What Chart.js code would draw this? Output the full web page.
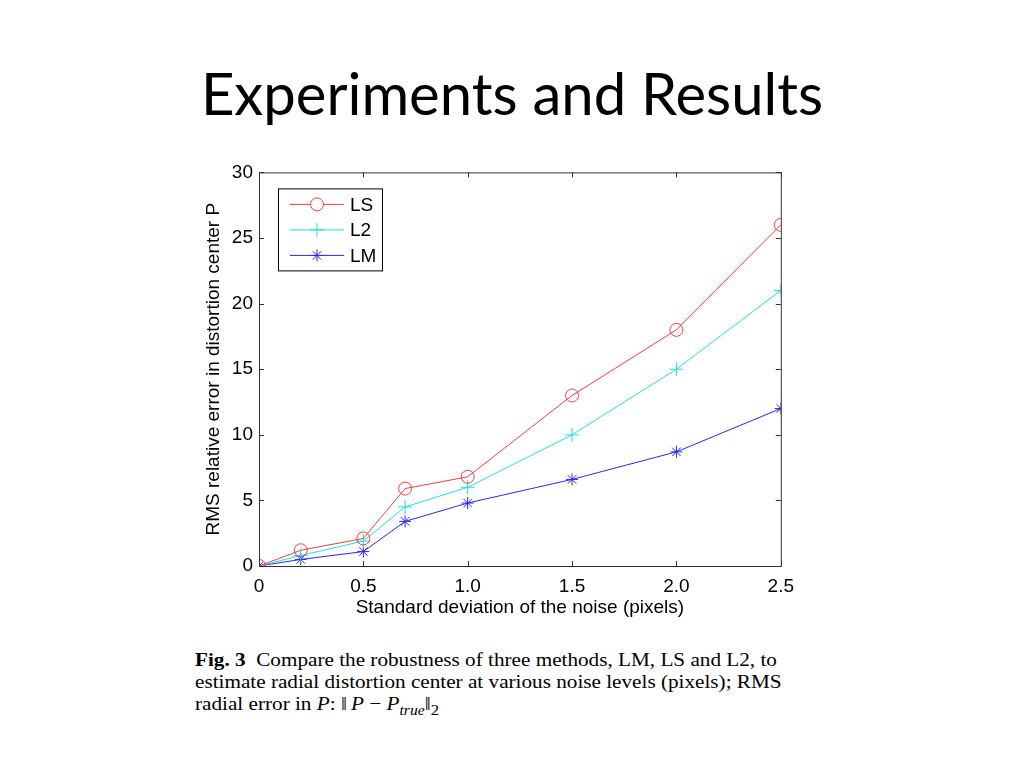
<!DOCTYPE html>
<html>
<head>
<meta charset="utf-8">
<script src="https://cdn.jsdelivr.net/npm/chart.js@4"></script>
<style>
  body { margin: 0; background: #fff; width: 1024px; height: 768px; position: relative; overflow: hidden; }
  #title { position: absolute; left: 0; width: 1024px; top: 58px; text-align: center; line-height: 1.2;
           font-family: Lato, "Open Sans", sans-serif; font-size: 58px; color: #000; white-space: nowrap; }
  #wrap { position: absolute; left: 200px; top: 155px; width: 603px; height: 465px; }
  #caption { position: absolute; left: 195px; top: 649px; white-space: nowrap;
             transform: scaleX(1.115); transform-origin: 0 0;
             font-family: "Liberation Serif", "DejaVu Serif", serif; font-size: 19px; line-height: 22px; color: #000; }
  #caption sub { line-height: 0; }
</style>
</head>
<body>
<div id="title">Experiments and Results</div>
<div id="wrap"><canvas id="c"></canvas></div>
<div id="caption"><b>Fig. 3</b>&nbsp; Compare the robustness of three methods, LM, LS and L2, to<br>estimate radial distortion center at various noise levels (pixels); RMS<br>radial error in <i>P</i>: ‖&thinsp;<i>P</i> − <i>P<sub style="font-size:14px">true</sub></i>‖<sub style="font-size:15px">2</sub></div>
<script>
const noise = [0, 0.2, 0.5, 0.7, 1.0, 1.5, 2.0, 2.5];
const lsErr = [0, 1.2, 2.1, 5.9, 6.8, 13, 18, 26];
const l2Err = [0, 0.8, 1.9, 4.5, 6.0, 10, 15, 21];
const lmErr = [0, 0.5, 1.1, 3.4, 4.8, 6.6, 8.7, 12];
const xTicks = [0, 0.5, 1.0, 1.5, 2.0, 2.5];
const xTickLabels = ['0', '0.5', '1.0', '1.5', '2.0', '2.5'];
const yTicks = [0, 5, 10, 15, 20, 25, 30];

function pts(ys) { return noise.map((x, i) => ({ x: x, y: ys[i] })); }

const FONT = '"Liberation Sans", Arial, sans-serif';

// box around the plot with inward ticks on all four sides
const boxPlugin = {
  id: 'box',
  afterDraw(chart) {
    const ctx = chart.ctx, a = chart.chartArea;
    const xs = chart.scales.x, ys = chart.scales.y;
    ctx.save();
    ctx.strokeStyle = '#333';
    ctx.lineWidth = 1;
    ctx.strokeRect(a.left + 0.5, a.top + 0.5, a.right - a.left, a.bottom - a.top);
    ctx.beginPath();
    xTicks.forEach(v => {
      const p = Math.round(xs.getPixelForValue(v)) + 0.5;
      ctx.moveTo(p, a.bottom); ctx.lineTo(p, a.bottom - 5);
      ctx.moveTo(p, a.top); ctx.lineTo(p, a.top + 5);
    });
    yTicks.forEach(v => {
      const p = Math.round(ys.getPixelForValue(v)) + 0.5;
      ctx.moveTo(a.left, p); ctx.lineTo(a.left + 5, p);
      ctx.moveTo(a.right, p); ctx.lineTo(a.right - 5, p);
    });
    ctx.stroke();
    ctx.restore();
  }
};

// matlab-style legend inside the axes, upper left
const legendPlugin = {
  id: 'boxLegend',
  afterDraw(chart) {
    const ctx = chart.ctx, a = chart.chartArea;
    const x0 = a.left + 19, y0 = a.top + 16;
    ctx.save();
    ctx.fillStyle = '#fff';
    ctx.fillRect(x0, y0, 104, 82);
    ctx.strokeStyle = '#000';
    ctx.lineWidth = 1;
    ctx.strokeRect(x0 + 0.5, y0 + 0.5, 104, 82);
    chart.data.datasets.forEach((ds, i) => {
      const y = y0 + 16 + i * 25.5;
      ctx.strokeStyle = ds.borderColor;
      ctx.lineWidth = 1;
      ctx.beginPath();
      ctx.moveTo(x0 + 12, y); ctx.lineTo(x0 + 66, y);
      ctx.stroke();
      Chart.helpers.drawPoint(ctx, {
        pointStyle: ds.pointStyle, radius: ds.pointRadius, borderWidth: 1
      }, x0 + 39, y);
      ctx.fillStyle = '#000';
      ctx.font = '19px ' + FONT;
      ctx.textBaseline = 'middle';
      ctx.fillText(ds.label, x0 + 72, y + 1);
    });
    ctx.restore();
  }
};

new Chart(document.getElementById('c'), {
  type: 'line',
  data: {
    datasets: [
      { label: 'LS', data: pts(lsErr), borderColor: '#ee4040', pointBorderColor: '#ee4040',
        backgroundColor: 'transparent', pointBackgroundColor: 'transparent',
        pointStyle: 'circle', pointRadius: 6.5, borderWidth: 1, pointBorderWidth: 1 },
      { label: 'L2', data: pts(l2Err), borderColor: '#20e0e0', pointBorderColor: '#20e0e0',
        backgroundColor: 'transparent', pointStyle: 'cross', pointRadius: 7, borderWidth: 1, pointBorderWidth: 1 },
      { label: 'LM', data: pts(lmErr), borderColor: '#2a2ae8', pointBorderColor: '#2a2ae8',
        backgroundColor: 'transparent', pointStyle: 'star', pointRadius: 6, borderWidth: 1, pointBorderWidth: 1 }
    ]
  },
  options: {
    responsive: true,
    maintainAspectRatio: false,
    animation: false,
    layout: { padding: { left: 0, right: 16, top: 8, bottom: 0 } },
    plugins: { legend: { display: false }, tooltip: { enabled: false } },
    elements: { line: { tension: 0 } },
    scales: {
      x: {
        type: 'linear', min: 0, max: 2.5,
        afterBuildTicks: s => { s.ticks = xTicks.map(v => ({ value: v })); },
        afterFit: s => { s.height = 54; },
        ticks: {
          color: '#000', font: { family: FONT, size: 19 }, padding: 9, maxRotation: 0,
          callback: (v) => xTickLabels[xTicks.indexOf(v)]
        },
        grid: { display: false, drawTicks: false },
        border: { display: false },
        title: { display: true, text: 'Standard deviation of the noise (pixels)', color: '#000',
                 font: { family: FONT, size: 19 }, padding: { top: 0, bottom: 1 } }
      },
      y: {
        type: 'linear', min: 0, max: 30,
        afterBuildTicks: s => { s.ticks = yTicks.map(v => ({ value: v })); },
        afterFit: s => { s.width = 59; },
        ticks: { color: '#000', font: { family: FONT, size: 19 }, padding: 6 },
        grid: { display: false, drawTicks: false },
        border: { display: false },
        title: { display: true, text: 'RMS relative error in distortion center P', color: '#000',
                 font: { family: FONT, size: 19 }, padding: { top: 2, bottom: 0 } }
      }
    }
  },
  plugins: [boxPlugin, legendPlugin]
});
</script>
</body>
</html>
